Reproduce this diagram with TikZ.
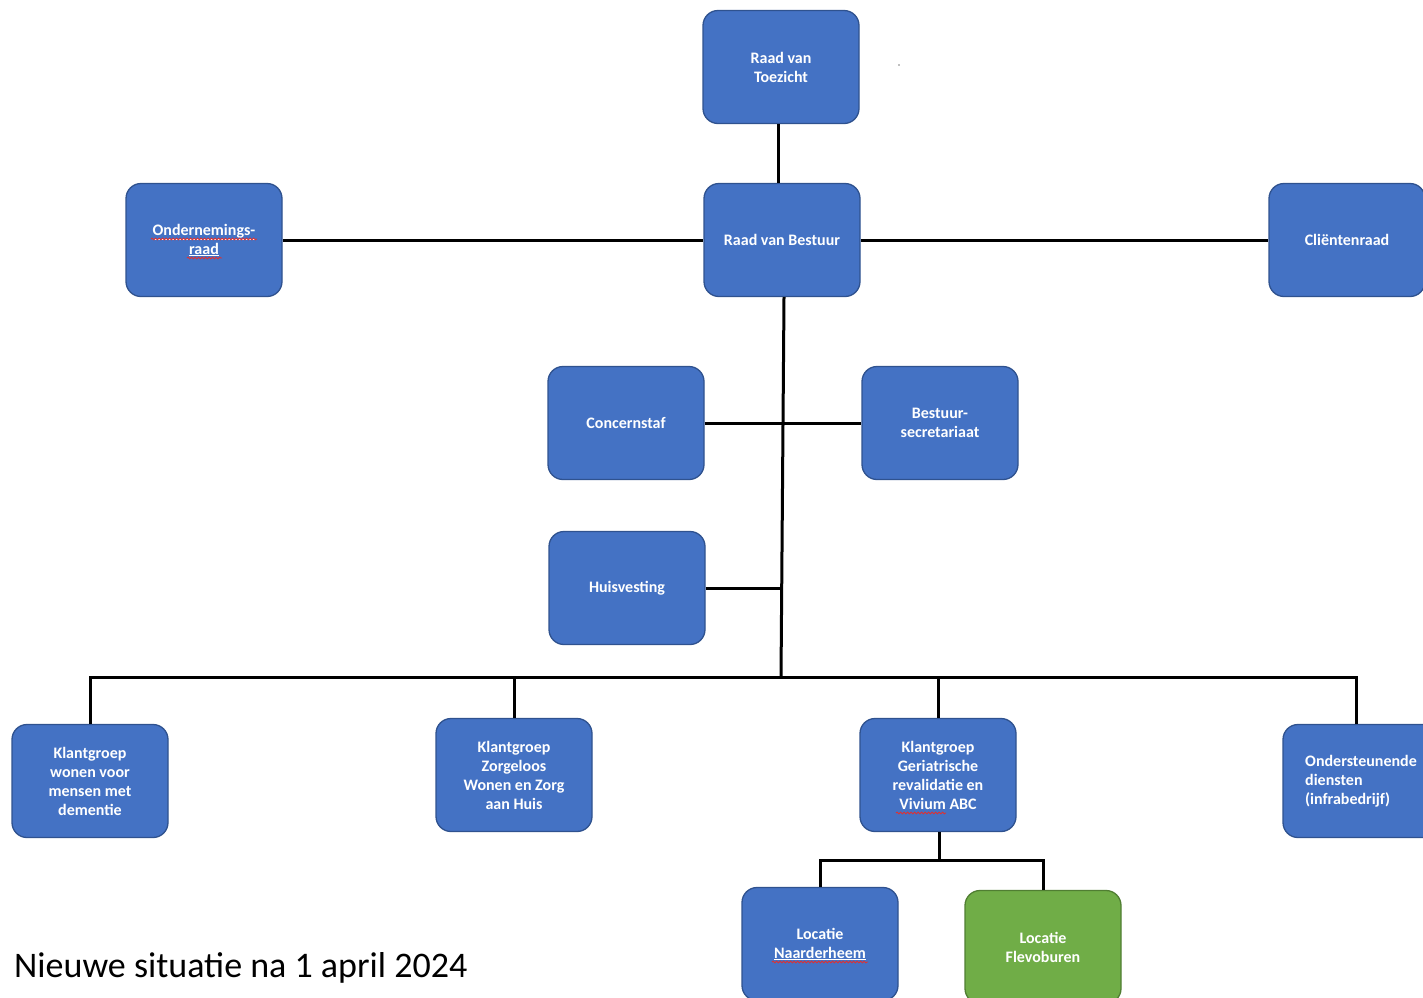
\documentclass[tikz,border=0pt]{standalone}
\usepackage{fontspec}
\setmainfont{Carlito}[BoldFont={Carlito Bold}]
\usetikzlibrary{decorations.pathmorphing}
\definecolor{boxblue}{HTML}{4472C4}
\definecolor{boxblueline}{HTML}{2F528F}
\definecolor{boxgreen}{HTML}{70AD47}
\definecolor{boxgreenline}{HTML}{507E32}
\definecolor{squig}{HTML}{E03030}
\tikzset{
  orgbox/.style={draw=boxblueline, fill=boxblue, line width=1.3pt, rounded corners=15pt,
    minimum width=156pt, minimum height=113pt, text=white, align=center,
    font=\bfseries\fontsize{16}{19}\selectfont, inner sep=2pt},
  greenbox/.style={orgbox, draw=boxgreenline, fill=boxgreen},
  conn/.style={draw=black, line width=3pt},
  spell/.style={draw=squig, line width=0.9pt, decorate, decoration={snake, amplitude=0.8pt, segment length=3.5pt}}
}
\begin{document}
\begin{tikzpicture}[x=1pt,y=-1pt]
\useasboundingbox (0,0) rectangle (1423,997);
\node[orgbox] (rvt) at (781,67) {Raad van\\Toezicht};
\node[orgbox] (rvb) at (782,240) {Raad van Bestuur};
\node[orgbox] (or) at (204,240) {\underline{Ondernemings-}\\\underline{raad}};
\node[orgbox] (cr) at (1347,240) {Cliëntenraad};
\node[orgbox] (cs) at (626,423) {Concernstaf};
\node[orgbox] (bs) at (940,423) {Bestuur-\\secretariaat};
\node[orgbox] (hv) at (627,588) {Huisvesting};
\node[orgbox] (k1) at (90,781) {Klantgroep\\wonen voor\\mensen met\\dementie};
\node[orgbox] (k2) at (514,775) {Klantgroep\\Zorgeloos\\Wonen en Zorg\\aan Huis};
\node[orgbox] (k3) at (938,775) {Klantgroep\\Geriatrische\\revalidatie en\\Vivium ABC};
\node[orgbox, align=left] (k4) at (1361,781) {Ondersteunende\\diensten\\(infrabedrijf)};
\node[orgbox] (ln) at (820,944) {Locatie\\\underline{Naarderheem}};
\node[greenbox] (lf) at (1043,947) {Locatie\\Flevoburen};
\node[text=black, anchor=west, font=\fontsize{36}{40}\selectfont, inner sep=0pt] (cap) at (14,968) {Nieuwe situatie na 1 april 2024};
\fill[gray] (899,65) circle (0.9pt);
% connector coordinates
\coordinate (bus) at (781,677);
\coordinate (sub) at (939,860);
\coordinate (k4top) at ([xshift=-5pt]k4.north);
% connectors
\draw[conn] (rvt.south -| 778,0) -- (rvb.north -| 778,0);
\draw[conn] (or.east) -- (rvb.west);
\draw[conn] (rvb.east) -- (cr.west);
\draw[conn] (rvb.south -| 784,0) -- (bus);
\draw[conn] (cs.east) -- (bs.west);
\draw[conn] (hv.east) -- (hv.east -| bus);
\draw[conn] (k1.north) -- (k1.north |- bus) -- (k4top |- bus) -- (k4top);
\draw[conn] (k2.north) -- (k2.north |- bus);
\draw[conn] (k3.north) -- (k3.north |- bus);
\draw[conn] (k3.south -| sub) -- (sub);
\draw[conn] (ln.north) -- (ln.north |- sub) -- (lf.north |- sub) -- (lf.north);
% spell-check marks
\draw[spell] (151,239) -- (257,239);
\draw[spell] (187,258) -- (222,258);
\draw[spell] (896,813) -- (946,813);
\draw[spell] (772,962) -- (868,962);
\end{tikzpicture}
\end{document}
